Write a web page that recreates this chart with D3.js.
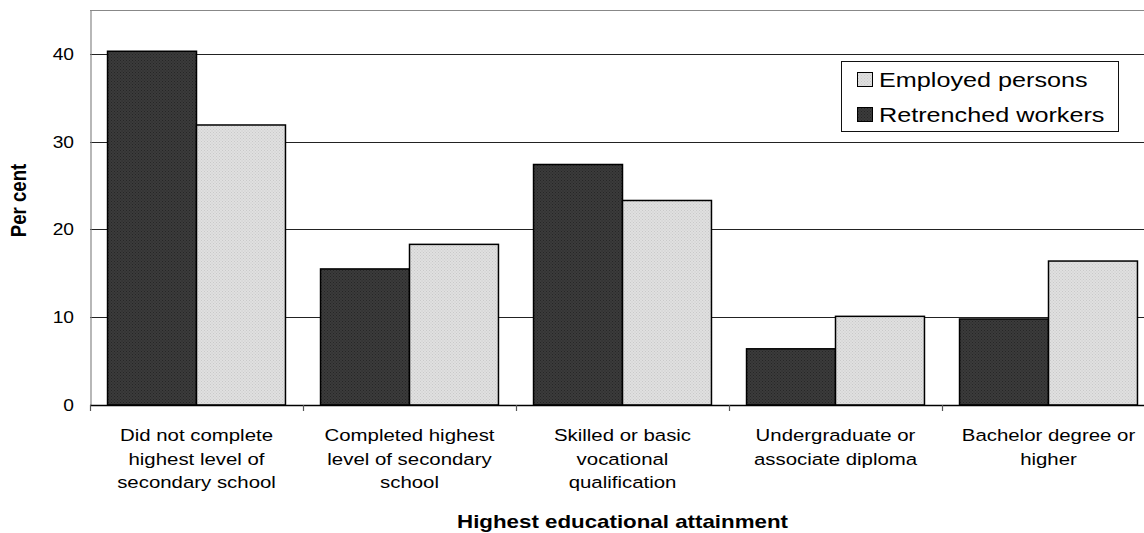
<!DOCTYPE html>
<html>
<head>
<meta charset="utf-8">
<script src="https://cdn.jsdelivr.net/npm/d3@7"></script>
<style>
  html, body { margin: 0; padding: 0; background: #fff; }
  svg { display: block; font-family: "Liberation Sans", Arial, sans-serif; }
</style>
</head>
<body>
<svg id="chart" width="1144" height="533"></svg>
<script>
// Share of people by highest educational attainment (per cent)
const categories = [
  "Did not complete highest level of secondary school",
  "Completed highest level of secondary school",
  "Skilled or basic vocational qualification",
  "Undergraduate or associate diploma",
  "Bachelor degree or higher"
];
const categoryLines = [
  ["Did not complete", "highest level of", "secondary school"],
  ["Completed highest", "level of secondary", "school"],
  ["Skilled or basic", "vocational", "qualification"],
  ["Undergraduate or", "associate diploma"],
  ["Bachelor degree or", "higher"]
];
const seriesNames = ["Retrenched workers", "Employed persons"];
const retrenched = [40.3, 15.5, 27.4, 6.4, 9.8];
const employed = [31.9, 18.3, 23.3, 10.1, 16.4];
const yTicks = [0, 10, 20, 30, 40];
const legendOrder = ["Employed persons", "Retrenched workers"];

const svg = d3.select("#chart");
const plot = { left: 90, right: 1155, top: 10, bottom: 405 };
const SX = 1.2; // horizontal text stretch

// fill textures
const defs = svg.append("defs");
function texture(id, base, dot) {
  const p = defs.append("pattern").attr("id", id)
    .attr("width", 3).attr("height", 3).attr("patternUnits", "userSpaceOnUse");
  p.append("rect").attr("width", 3).attr("height", 3).attr("fill", base);
  p.append("rect").attr("x", 0).attr("y", 0).attr("width", 1).attr("height", 1).attr("fill", dot);
  p.append("rect").attr("x", 1.5).attr("y", 1.5).attr("width", 1).attr("height", 1).attr("fill", dot);
}
texture("texDark", "#3b3b3b", "#262626");
texture("texLight", "#e0e0e0", "#c9c9c9");
const fills = { "Retrenched workers": "url(#texDark)", "Employed persons": "url(#texLight)" };

const x0 = d3.scaleBand().domain(categories).range([plot.left, plot.right]).padding(0);
const x1 = d3.scaleBand().domain(seriesNames).range([0, x0.bandwidth()])
  .paddingInner(0).paddingOuter(0.197);
const y = d3.scaleLinear().domain([0, 45]).range([plot.bottom, plot.top]);

function stretchedText(g, x, yy, str, size, weight, anchor) {
  return g.append("text")
    .attr("transform", `translate(${x},${yy}) scale(${SX},1)`)
    .attr("text-anchor", anchor || "middle")
    .attr("font-size", size)
    .attr("font-weight", weight || "normal")
    .attr("fill", "#000")
    .text(str);
}

// plot frame (top and left edges)
svg.append("line").attr("x1", plot.left).attr("x2", 1144)
  .attr("y1", plot.top + 0.5).attr("y2", plot.top + 0.5)
  .attr("stroke", "#888").attr("stroke-width", 1.2);

// gridlines
svg.append("g").selectAll("line").data(yTicks.filter(d => d > 0)).join("line")
  .attr("x1", plot.left).attr("x2", plot.right)
  .attr("y1", d => Math.round(y(d)) + 0.5).attr("y2", d => Math.round(y(d)) + 0.5)
  .attr("stroke", "#222").attr("stroke-width", 1);

// y axis
const yAxis = svg.append("g")
  .attr("transform", `translate(${plot.left + 0.5},0)`)
  .call(d3.axisLeft(y).tickValues(yTicks).tickSize(0).tickPadding(16));
yAxis.select(".domain").attr("stroke", "#888").attr("stroke-width", 1.2);
yAxis.selectAll(".tick text").remove();
yTicks.forEach(t => {
  stretchedText(svg, 74, y(t) + 6, String(t), 16, "normal", "end");
});

// bars
const groups = svg.append("g").selectAll("g").data(categories).join("g")
  .attr("transform", d => `translate(${x0(d)},0)`);
groups.selectAll("rect")
  .data((d, i) => [
    { s: "Retrenched workers", v: retrenched[i] },
    { s: "Employed persons", v: employed[i] }
  ])
  .join("rect")
  .attr("x", d => x1(d.s))
  .attr("width", x1.bandwidth())
  .attr("y", d => y(d.v))
  .attr("height", d => y(0) - y(d.v))
  .attr("fill", d => fills[d.s])
  .attr("stroke", "#000")
  .attr("stroke-width", 1.5);

// x axis
const xBounds = categories.map(c => x0(c)).concat([plot.right]);
svg.append("line").attr("x1", plot.left).attr("x2", plot.right)
  .attr("y1", plot.bottom + 0.5).attr("y2", plot.bottom + 0.5)
  .attr("stroke", "#000").attr("stroke-width", 1.5);
svg.append("g").selectAll("line").data(xBounds).join("line")
  .attr("x1", d => Math.round(d) + 0.5).attr("x2", d => Math.round(d) + 0.5)
  .attr("y1", plot.bottom).attr("y2", plot.bottom + 6)
  .attr("stroke", "#555").attr("stroke-width", 1.2);

// category labels
categories.forEach((c, i) => {
  const cx = x0(c) + x0.bandwidth() / 2;
  categoryLines[i].forEach((line, j) => {
    stretchedText(svg, cx, 441 + j * 23.6, line, 17);
  });
});

// axis titles
stretchedText(svg, (plot.left + plot.right) / 2, 528, "Highest educational attainment", 18.6, "bold");
svg.append("text")
  .attr("transform", `translate(26,${(plot.top + plot.bottom) / 2 - 7}) scale(${SX},1) rotate(-90)`)
  .attr("text-anchor", "middle")
  .attr("font-size", 18.6).attr("font-weight", "bold")
  .text("Per cent");

// legend
const legend = svg.append("g");
legend.append("rect").attr("x", 841.5).attr("y", 61.5).attr("width", 277).attr("height", 70)
  .attr("fill", "#fff").attr("stroke", "#111").attr("stroke-width", 1);
legendOrder.forEach((s, i) => {
  const yy = 86.5 + i * 35;
  legend.append("rect").attr("x", 857.5).attr("y", yy - 14).attr("width", 15).attr("height", 14)
    .attr("fill", fills[s]).attr("stroke", "#000").attr("stroke-width", 1);
  stretchedText(legend, 879, yy, s, 21, "normal", "start");
});
</script>
</body>
</html>
